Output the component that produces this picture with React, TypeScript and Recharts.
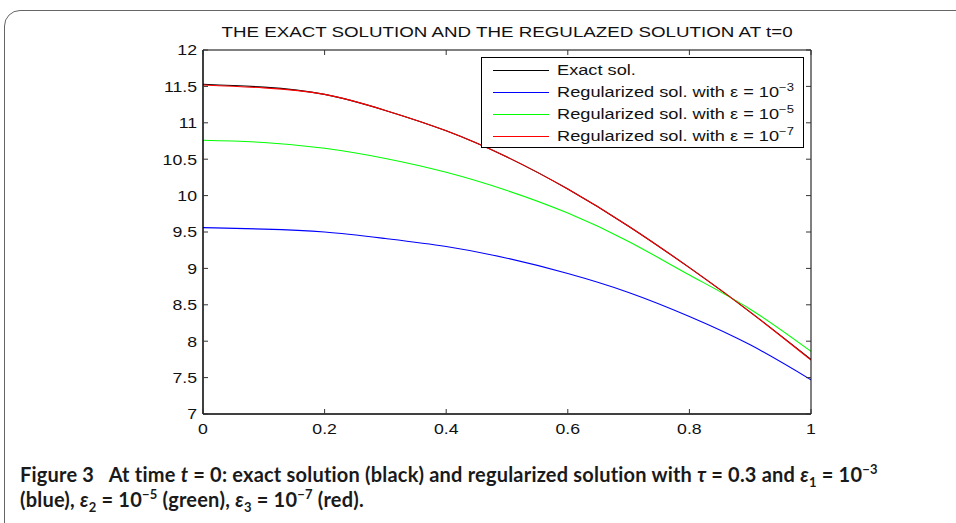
import { LineChart, Line, XAxis, YAxis } from 'recharts';

// values
const tValues = [0, 0.1, 0.2, 0.3, 0.4, 0.5, 0.6, 0.7, 0.8, 0.9, 1];
const exactSol = [11.53, 11.49, 11.39, 11.17, 10.89, 10.53, 10.09, 9.58, 9.01, 8.4, 7.75];
const regEps3 = [9.56, 9.54, 9.5, 9.41, 9.3, 9.14, 8.93, 8.67, 8.34, 7.95, 7.47];
const regEps5 = [10.76, 10.73, 10.65, 10.51, 10.32, 10.07, 9.76, 9.37, 8.91, 8.44, 7.86];
const regEps7 = [11.52, 11.48, 11.39, 11.17, 10.89, 10.53, 10.09, 9.58, 9.01, 8.4, 7.74];

const xTicks = [0, 0.2, 0.4, 0.6, 0.8, 1];
const yTicks = [7, 7.5, 8, 8.5, 9, 9.5, 10, 10.5, 11, 11.5, 12];

const series = [
  { key: 'exact', color: '#000000', label: 'Exact sol.', exp: '' },
  { key: 'eps3', color: '#0000ff', label: 'Regularized sol. with \u03b5 = 10', exp: '\u22123' },
  { key: 'eps5', color: '#00ff00', label: 'Regularized sol. with \u03b5 = 10', exp: '\u22125' },
  { key: 'eps7', color: '#ff0000', label: 'Regularized sol. with \u03b5 = 10', exp: '\u22127' },
];

const data = tValues.map((t, i) => ({
  t,
  exact: exactSol[i],
  eps3: regEps3[i],
  eps5: regEps5[i],
  eps7: regEps7[i],
}));

const FONT = '"Liberation Sans", Arial, Helvetica, sans-serif';
const STRETCH = 1.18;

// MATLAB-style inward ticks, labels outside
function BottomTick({ x, y, payload }: any) {
  return (
    <g>
      <line x1={x} x2={x} y1={y} y2={y - 5} stroke="#333" />
      <text
        transform={`translate(${x},${y + 15}) scale(${STRETCH},1)`}
        textAnchor="middle"
        dominantBaseline="central"
        fontSize={15}
        fontFamily={FONT}
        fill="#111"
      >
        {payload.value}
      </text>
    </g>
  );
}

function LeftTick({ x, y, payload }: any) {
  return (
    <g>
      <line x1={x} x2={x + 5} y1={y} y2={y} stroke="#333" />
      <text
        transform={`translate(${x - 6},${y}) scale(${STRETCH},1)`}
        textAnchor="end"
        dominantBaseline="central"
        fontSize={15}
        fontFamily={FONT}
        fill="#111"
      >
        {payload.value}
      </text>
    </g>
  );
}

function TopTick({ x, y }: any) {
  return <line x1={x} x2={x} y1={y} y2={y + 5} stroke="#333" />;
}

function RightTick({ x, y }: any) {
  return <line x1={x} x2={x - 5} y1={y} y2={y} stroke="#333" />;
}

function LegendBox() {
  return (
    <div
      style={{
        position: 'absolute',
        left: 481,
        top: 57,
        border: '1px solid #000',
        background: '#fff',
        width: 323,
        height: 91,
        boxSizing: 'border-box',
        padding: '1px 0 0 11px',
        fontFamily: FONT,
        fontSize: 14,
        color: '#111',
      }}
    >
      {series.map((s) => (
        <div key={s.key} style={{ display: 'flex', alignItems: 'center', height: 22 }}>
          <div style={{ width: 56, height: 0, borderTop: `1px solid ${s.color}`, marginRight: 8 }} />
          <span
            style={{
              display: 'inline-block',
              transform: 'scaleX(1.3)',
              transformOrigin: 'left center',
              whiteSpace: 'nowrap',
            }}
          >
            {s.label}
            {s.exp && <sup style={{ fontSize: 10, verticalAlign: 6, lineHeight: 0 }}>{s.exp}</sup>}
          </span>
        </div>
      ))}
    </div>
  );
}

const subStyle = { fontSize: 13, lineHeight: 0 };

export default function App() {
  return (
    <div style={{ position: 'relative', width: 956, height: 523, overflow: 'hidden', background: '#fff' }}>
      <style>{'body{margin:0}'}</style>
      <div
        style={{
          position: 'absolute',
          left: 4,
          top: 10,
          width: 1000,
          height: 600,
          border: '1px solid #666',
          borderRadius: 16,
        }}
      />
      <div
        style={{
          position: 'absolute',
          left: 507,
          top: 24,
          transform: 'translateX(-50%) scaleX(1.25)',
          fontFamily: FONT,
          fontSize: 15,
          color: '#111',
          whiteSpace: 'nowrap',
          lineHeight: '16px',
        }}
      >
        THE EXACT SOLUTION AND THE REGULAZED SOLUTION AT t=0
      </div>
      <div style={{ position: 'absolute', left: 0, top: 0 }}>
        <LineChart width={956} height={450} data={data} margin={{ top: 49, right: 144, bottom: 35, left: 202 }}>
          <XAxis
            xAxisId="bottom"
            dataKey="t"
            type="number"
            domain={[0, 1]}
            ticks={xTicks}
            height={1}
            tickSize={0}
            tickMargin={0}
            tick={<BottomTick />}
            tickLine={false}
            axisLine={{ stroke: '#000', strokeWidth: 1.5 }}
            allowDataOverflow
          />
          <XAxis
            xAxisId="top"
            orientation="top"
            dataKey="t"
            type="number"
            domain={[0, 1]}
            ticks={xTicks}
            height={1}
            tickSize={0}
            tickMargin={0}
            tick={<TopTick />}
            tickLine={false}
            axisLine={{ stroke: '#000', strokeWidth: 1 }}
            allowDataOverflow
          />
          <YAxis
            yAxisId="left"
            type="number"
            domain={[7, 12]}
            ticks={yTicks}
            width={1}
            tickSize={0}
            tickMargin={0}
            tick={<LeftTick />}
            tickLine={false}
            axisLine={{ stroke: '#000', strokeWidth: 1.5 }}
            allowDataOverflow
          />
          <YAxis
            yAxisId="right"
            orientation="right"
            type="number"
            domain={[7, 12]}
            ticks={yTicks}
            width={1}
            tickSize={0}
            tickMargin={0}
            tick={<RightTick />}
            tickLine={false}
            axisLine={{ stroke: '#000', strokeWidth: 1 }}
            allowDataOverflow
          />
          {series.map((s) => (
            <Line
              key={s.key}
              xAxisId="bottom"
              yAxisId="left"
              type="natural"
              dataKey={s.key}
              stroke={s.color}
              strokeWidth={1.1}
              dot={false}
              isAnimationActive={false}
            />
          ))}
        </LineChart>
      </div>
      <LegendBox />
      <div
        style={{
          position: 'absolute',
          left: 20,
          top: 462,
          fontFamily: 'Lato, "Open Sans", sans-serif',
          fontWeight: 700,
          fontSize: 20,
          letterSpacing: 0.2,
          lineHeight: '25px',
          color: '#1a1a1a',
          whiteSpace: 'nowrap',
        }}
      >
        <div>
          Figure 3&nbsp;&nbsp; At time <i>t</i> = 0: exact solution (black) and regularized solution with <i>τ</i> = 0.3 and{' '}
          <i>ε</i>
          <sub style={subStyle}>1</sub> = 10<sup style={subStyle}>−3</sup>
        </div>
        <div>
          (blue), <i>ε</i>
          <sub style={subStyle}>2</sub> = 10<sup style={subStyle}>−5</sup> (green), <i>ε</i>
          <sub style={subStyle}>3</sub> = 10<sup style={subStyle}>−7</sup> (red).
        </div>
      </div>
    </div>
  );
}
